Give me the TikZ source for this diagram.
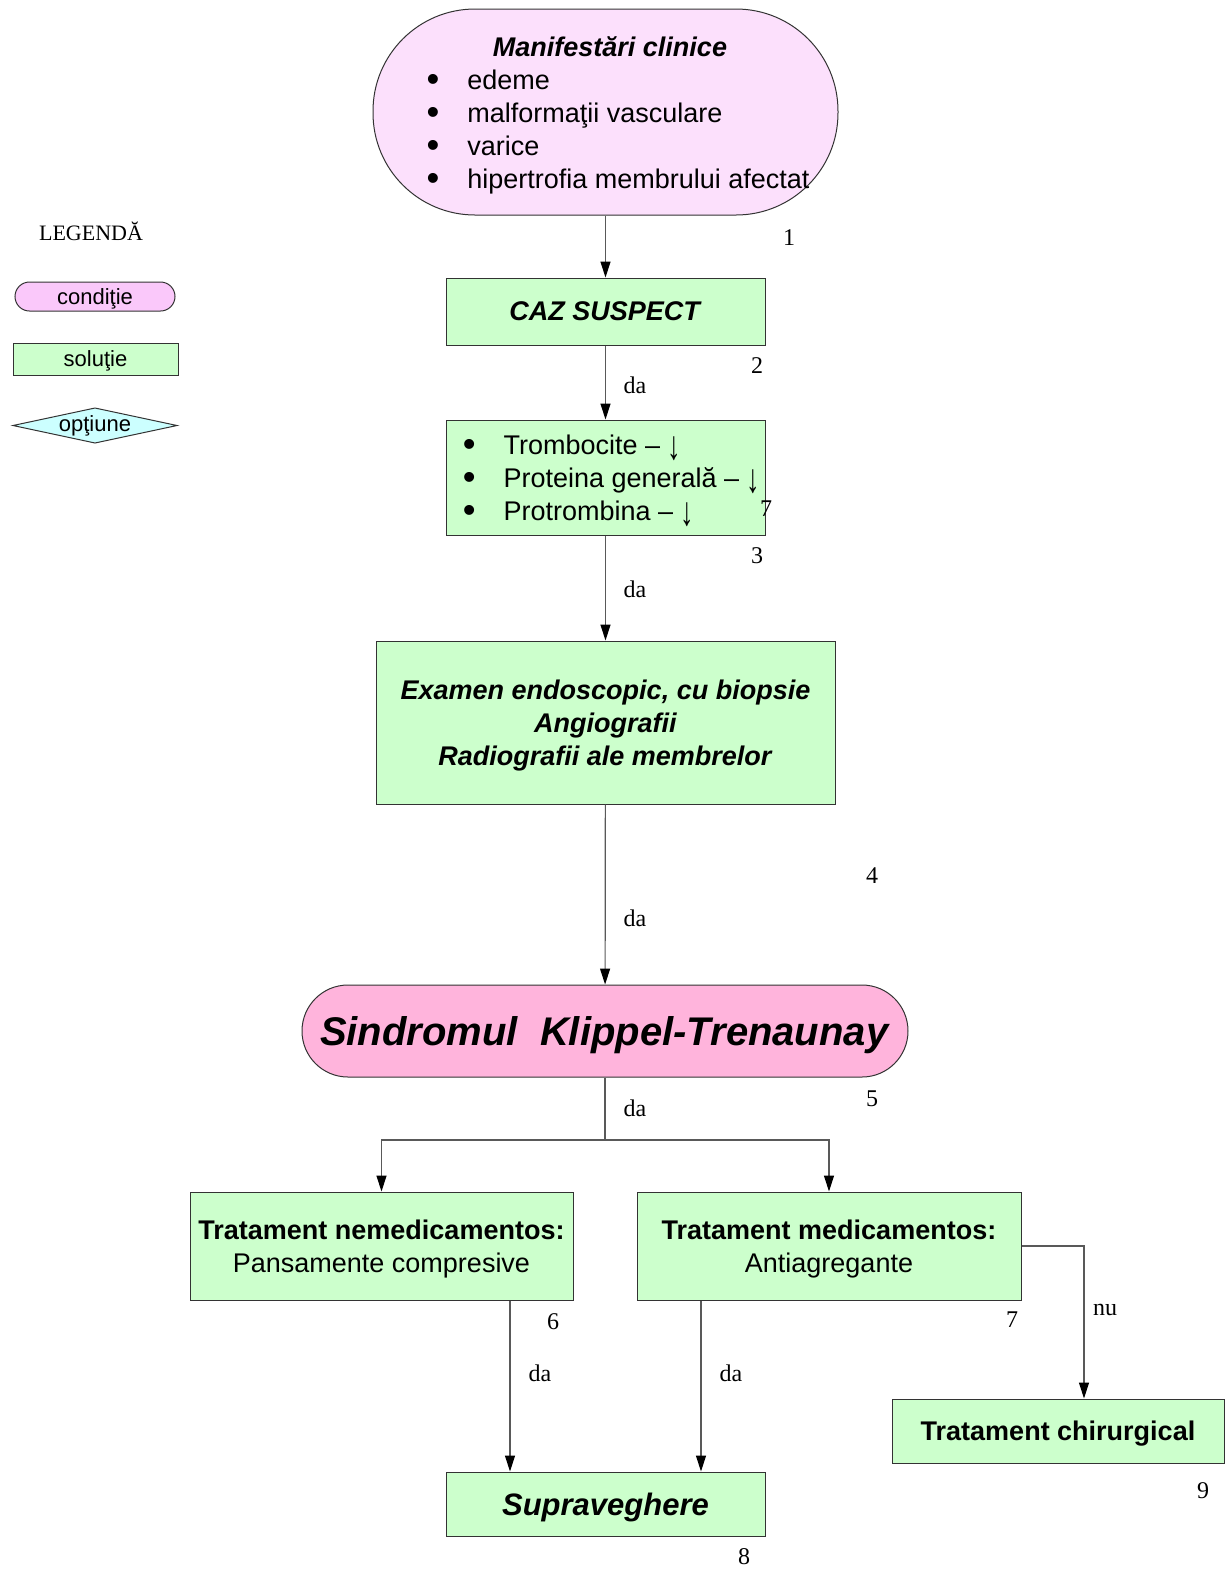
\documentclass[tikz,border=0pt]{standalone}
\usepackage{fontspec}
\setmainfont{Liberation Serif}
\setsansfont{Liberation Sans}
\usetikzlibrary{arrows.meta}

\definecolor{pinklight}{HTML}{FCE0FC}
\definecolor{pinkleg}{HTML}{FAC8FA}
\definecolor{pinkdeep}{HTML}{FFB4DC}
\definecolor{greenbox}{HTML}{CCFFCC}
\definecolor{cyanbox}{HTML}{CCFFFF}

\newcommand{\boxfont}{\sffamily\fontsize{13.5}{16.5}\selectfont}
\newcommand{\legfont}{\sffamily\fontsize{11}{13}\selectfont}
\newcommand{\bigbullet}{\raisebox{-0.1em}{\scalebox{1.35}{•}}}
\newcommand{\downarr}{\raisebox{-0.2em}{\scalebox{1}[1.5]{↓}}}

\begin{document}
\begin{tikzpicture}[x=0.5pt, y=-0.5pt,
		solbox/.style={rectangle, draw=black!80, fill=greenbox, line width=0.5pt, inner sep=0pt, align=center, font=\boxfont},
		condbox/.style={rectangle, draw=black!80, line width=0.5pt, inner sep=0pt, font=\boxfont},
		conn/.style={draw=black!65, line width=0.6pt},
		arr/.style={conn, -{Triangle[length=8pt,width=5pt,color=black]}},
		numlbl/.style={font=\fontsize{12}{14}\selectfont, inner sep=0pt}
	]
		\useasboundingbox (0,0) rectangle (1229,1571);

		% legend
		\node[font=\fontsize{11}{13}\selectfont, inner sep=0pt] (legtitle) at (91,231) {LEGENDĂ};
		\node[
			condbox, fill=pinkleg, rounded corners=7.25pt, font=\legfont, text depth=0pt,
			minimum width=80pt, minimum height=14.5pt
		] (legcond) at (95,296.5) {condiţie};
		\node[
			solbox, font=\legfont, text depth=0pt,
			minimum width=82.5pt, minimum height=16pt
		] (legsol) at (95.5,359) {soluţie};
		\draw[draw=black!80, fill=cyanbox, line width=0.5pt] (13,425.5) -- (95,408) -- (177,425.5) -- (95,443) -- cycle;
		\node[font=\legfont, inner sep=0pt] (legopt) at (95,426) {opţiune};

		% main flow
		\node[
			condbox, fill=pinklight, rounded corners=51pt,
			minimum width=232.5pt, minimum height=103pt
		] (manif) at (605.5,112) {%
			\raisebox{0pt}[\dimexpr\height+3.5pt\relax][\depth]{%
			\begin{tabular}{@{}l@{\hspace{14pt}}l@{}}
				\multicolumn{2}{c}{\hspace*{-8pt}\textbf{\textit{Manifestări clinice}}}\\
				\bigbullet&edeme\\
				\bigbullet&malformaţii vasculare\\
				\bigbullet&varice\\
				\bigbullet&hipertrofia membrului afectat
			\end{tabular}}\hspace*{-12.5pt}};

		\node[solbox, minimum width=159.5pt, minimum height=33.5pt] (caz) at (605.5,311.5) {\textbf{\textit{CAZ SUSPECT}}};

		\node[solbox, minimum width=159.5pt, minimum height=57.5pt] (labs) at (605.5,477.5) {%
			\raisebox{0pt}[\dimexpr\height+3pt\relax][\depth]{%
			\begin{tabular}{@{}l@{\hspace{14pt}}l@{}}
				\bigbullet&Trombocite – \downarr\\
				\bigbullet&Proteina generală – \downarr\\
				\bigbullet&Protrombina – \downarr
			\end{tabular}}\hspace*{-6pt}};

		\node[solbox, text depth=0pt, minimum width=229.5pt, minimum height=81.5pt] (exam) at (605.5,722.5) {%
			\textbf{\textit{Examen endoscopic, cu biopsie}}\\
			\textbf{\textit{Angiografii}}\\
			\textbf{\textit{Radiografii ale membrelor}}};

		\node[
			condbox, fill=pinkdeep, rounded corners=23pt, text depth=0pt,
			minimum width=303pt, minimum height=46pt,
			font=\sffamily\fontsize{20}{23}\selectfont
		] (sindrom) at (605,1031) {\textbf{\textit{Sindromul~~Klippel-Trenaunay}}};

		\node[solbox, text depth=0pt, minimum width=191.5pt, minimum height=54pt] (nemed) at (381.5,1246) {%
			\textbf{Tratament nemedicamentos:}\\Pansamente compresive};
		\node[solbox, text depth=0pt, minimum width=192pt, minimum height=54pt] (med) at (829,1246) {%
			\textbf{Tratament medicamentos:}\\Antiagregante};
		\node[solbox, text depth=0pt, minimum width=166pt, minimum height=32pt] (chir) at (1058,1431) {\textbf{Tratament chirurgical}};
		\node[
			solbox, text depth=0pt, minimum width=159.5pt, minimum height=32pt,
			font=\sffamily\fontsize{15.5}{18}\selectfont
		] (suprav) at (605.5,1504) {\textbf{\textit{Supraveghere}}};

		% connectors
		\draw[arr] (manif) -- (caz);
		\draw[arr] (caz) -- (labs);
		\draw[arr] (labs) -- (exam);
		\draw[arr] (exam) -- (sindrom);
		\coordinate (split) at (605,1140);
		\draw[conn] (sindrom.south) -- (split);
		\draw[arr] (split) -| (nemed.north);
		\draw[arr] (split) -| (med.north);
		\draw[arr] ([xshift=64.25pt]nemed.south) -- ([xshift=64.25pt]nemed.south |- suprav.north);
		\draw[arr] ([xshift=-64pt]med.south) -- ([xshift=-64pt]med.south |- suprav.north);
		\draw[arr] (med.east) -| ([xshift=13pt]chir.north);

		% branch labels
		\node[numlbl] (da1) at (635,385) {da};
		\node[numlbl] (da2) at (635,589) {da};
		\node[numlbl] (da3) at (635,918) {da};
		\node[numlbl] (da4) at (635,1108) {da};
		\node[numlbl] (da5) at (540,1373) {da};
		\node[numlbl] (da6) at (731,1373) {da};
		\node[numlbl] (nu1) at (1105,1310) {nu};

		% step numbers
		\node[numlbl] (n1) at (789,238) {1};
		\node[numlbl] (n2) at (757,366) {2};
		\node[numlbl] (n7a) at (766,509) {7};
		\node[numlbl] (n3) at (757,556) {3};
		\node[numlbl] (n4) at (872,876) {4};
		\node[numlbl] (n5) at (872,1099) {5};
		\node[numlbl] (n6) at (553,1322) {6};
		\node[numlbl] (n7) at (1012,1320) {7};
		\node[numlbl] (n9) at (1203,1491) {9};
		\node[numlbl] (n8) at (744,1557) {8};
	\end{tikzpicture}
\end{document}
